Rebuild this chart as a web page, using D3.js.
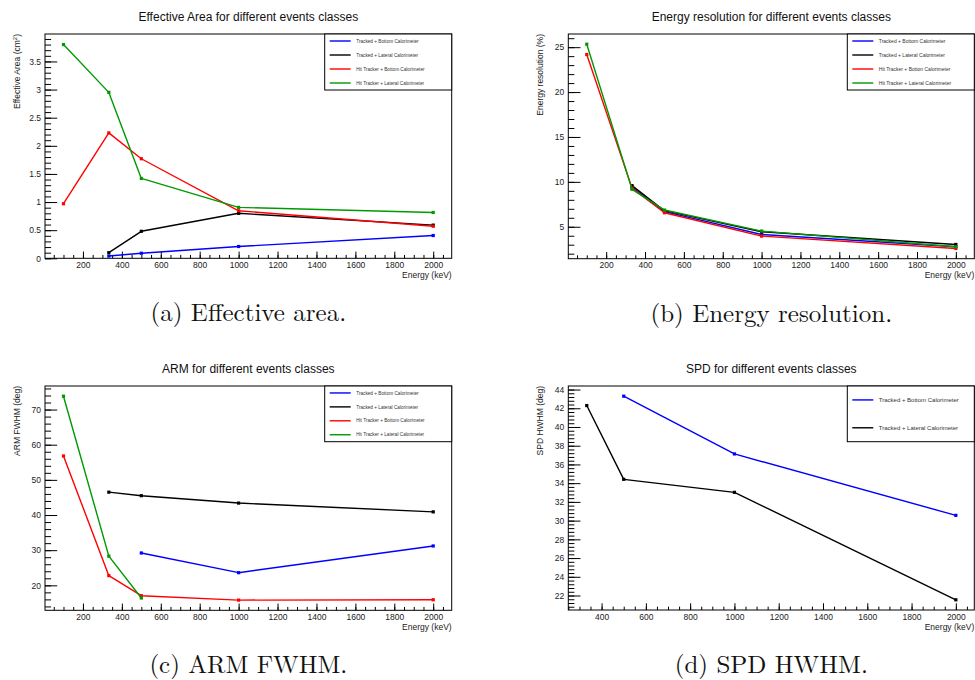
<!DOCTYPE html>
<html>
<head>
<meta charset="utf-8">
<script src="https://cdn.jsdelivr.net/npm/d3@7"></script>
<style>
  html, body { margin: 0; padding: 0; background: #fff; }
  svg { display: block; }
</style>
</head>
<body>
<svg id="fig" width="975" height="680"></svg>
<script>
// Beam energies (keV) shared by every event class
const energies = [100, 333, 500, 1000, 2000];

const classNames = [
  "Tracked + Bottom Calorimeter",
  "Tracked + Lateral Calorimeter",
  "Hit Tracker + Bottom Calorimeter",
  "Hit Tracker + Lateral Calorimeter"
];
const classNamesResolution = [
  "Tracked + Bottom Calorimeter",
  "Tracked + Lateral Calorimeter",
  "Hit Tracker + Botton Calorimeter",
  "Hit Tracker + Lateral Calorimeter"
];
const classColors = ["#0000ff", "#000000", "#ff0000", "#009900"];

// Effective area (cm^2)
const areaTrackedBottom  = [null, 0.04, 0.09, 0.21, 0.405];
const areaTrackedLateral = [null, 0.10, 0.48, 0.80, 0.59];
const areaHitBottom      = [0.97, 2.23, 1.77, 0.845, 0.57];
const areaHitLateral     = [3.80, 2.95, 1.42, 0.905, 0.815];

// Energy resolution (%)
const resTrackedBottom  = [null, 9.40, 6.68, 4.14, 2.77];
const resTrackedLateral = [null, 9.58, 6.79, 4.44, 3.03];
const resHitBottom      = [24.18, 9.30, 6.56, 3.96, 2.58];
const resHitLateral     = [25.33, 9.17, 6.86, 4.52, 2.77];

// ARM FWHM (deg)
const armTrackedBottom  = [null, null, 29.2, 23.6, 31.2];
const armTrackedLateral = [null, 46.5, 45.5, 43.4, 40.9];
const armHitBottom      = [56.8, 22.76, 17.05, 15.8, 15.9];
const armHitLateral     = [73.8, 28.3, 16.4, null, null];

// SPD HWHM (deg)
const spdTrackedBottom  = [null, null, 43.29, 37.12, 30.56];
const spdTrackedLateral = [null, 42.29, 34.41, 33.02, 21.54];

// Axis tick steps
const xTickSteps = [200, 50];
const areaTickSteps = [0.5, 0.1];
const resTickSteps = [5, 1];
const armTickSteps = [10, 2];
const spdTickSteps = [2, 0.4];

const panels = [
  {
    title: "Effective Area for different events classes",
    yTitle: ["Effective Area (cm", "2", ")"],
    caption: "(a) Effective area.",
    frame: { left: 45, right: 451.7, top: 34, bottom: 258.3 },
    series: [areaTrackedBottom, areaTrackedLateral, areaHitBottom, areaHitLateral],
    labels: classNames, colors: classColors,
    yTicks: areaTickSteps, clampZero: true,
    legend: { height: 56, size: 4.7 }
  },
  {
    title: "Energy resolution for different events classes",
    yTitle: ["Energy resolution (%)"],
    caption: "(b) Energy resolution.",
    frame: { left: 568.3, right: 974.3, top: 34, bottom: 258.7 },
    series: [resTrackedBottom, resTrackedLateral, resHitBottom, resHitLateral],
    labels: classNamesResolution, colors: classColors,
    yTicks: resTickSteps, clampZero: true,
    legend: { height: 56, size: 5 }
  },
  {
    title: "ARM for different events classes",
    yTitle: ["ARM FWHM (deg)"],
    caption: "(c) ARM FWHM.",
    frame: { left: 45, right: 451.7, top: 386, bottom: 610.3 },
    series: [armTrackedBottom, armTrackedLateral, armHitBottom, armHitLateral],
    labels: classNames, colors: classColors,
    yTicks: armTickSteps, clampZero: true,
    legend: { height: 55.7, size: 4.7 }
  },
  {
    title: "SPD for different events classes",
    yTitle: ["SPD HWHM (deg)"],
    caption: "(d) SPD HWHM.",
    frame: { left: 568.3, right: 974.3, top: 386, bottom: 610 },
    series: [spdTrackedBottom, spdTrackedLateral],
    labels: classNames.slice(0, 2), colors: classColors.slice(0, 2),
    yTicks: spdTickSteps, clampZero: true,
    legend: { height: 55.7, size: 6 }
  }
];

const sans = "'Liberation Sans', Arial, Helvetica, sans-serif";
const serif = "'Latin Modern Roman', 'CMU Serif', 'DejaVu Serif', serif";
const svg = d3.select("#fig");

// Data range padded by 5% on each side (clamped at zero for positive data)
function paddedExtent(values, clampZero) {
  const [lo, hi] = d3.extent(values);
  const pad = 0.05 * (hi - lo);
  let a = lo - pad;
  if (clampZero && lo >= 0 && a < 0) a = 0;
  return [a, hi + pad];
}

function stepTicks(domain, step) {
  const i0 = Math.ceil(domain[0] / step - 1e-9);
  const i1 = Math.floor(domain[1] / step + 1e-9);
  return d3.range(i0, i1 + 1).map(i => +(i * step).toFixed(6));
}

const fmt = d => String(+d.toFixed(6));

panels.forEach(p => {
  const f = p.frame;
  const g = svg.append("g");

  const xs = [], ys = [];
  p.series.forEach(s => s.forEach((v, i) => {
    if (v != null) { xs.push(energies[i]); ys.push(v); }
  }));

  const x = d3.scaleLinear().domain(paddedExtent(xs, false)).range([f.left, f.right]);
  const y = d3.scaleLinear().domain(paddedExtent(ys, p.clampZero)).range([f.bottom, f.top]);

  const frameW = f.right - f.left, frameH = f.bottom - f.top;
  const xTickLen = 0.03 * frameH, yTickLen = 0.03 * frameW;

  // frame
  g.append("rect")
    .attr("x", f.left).attr("y", f.top)
    .attr("width", frameW).attr("height", frameH)
    .attr("fill", "#fff").attr("stroke", "#000").attr("stroke-width", 1);

  // x axis: minor then major ticks, pointing into the frame
  const xMinor = g.append("g").attr("transform", `translate(0,${f.bottom})`)
    .call(d3.axisBottom(x).tickValues(stepTicks(x.domain(), xTickSteps[1]))
      .tickSize(-xTickLen / 2).tickFormat(""));
  const xMajor = g.append("g").attr("transform", `translate(0,${f.bottom})`)
    .call(d3.axisBottom(x).tickValues(stepTicks(x.domain(), xTickSteps[0]))
      .tickSize(-xTickLen).tickPadding(3.5).tickFormat(fmt));

  const yMinor = g.append("g").attr("transform", `translate(${f.left},0)`)
    .call(d3.axisLeft(y).tickValues(stepTicks(y.domain(), p.yTicks[1]))
      .tickSize(-yTickLen / 2).tickFormat(""));
  const yMajor = g.append("g").attr("transform", `translate(${f.left},0)`)
    .call(d3.axisLeft(y).tickValues(stepTicks(y.domain(), p.yTicks[0]))
      .tickSize(-yTickLen).tickPadding(4).tickFormat(fmt));

  [xMinor, xMajor, yMinor, yMajor].forEach(a => {
    a.select(".domain").remove();
    a.attr("font-family", sans).attr("font-size", 8.5);
    a.selectAll("line").attr("stroke", "#000").attr("stroke-width", 1);
    a.selectAll("text").attr("fill", "#222");
  });

  // series lines and markers
  const line = d3.line()
    .defined(d => d.v != null)
    .x(d => x(d.e)).y(d => y(d.v));

  p.series.forEach((s, k) => {
    const pts = s.map((v, i) => ({ e: energies[i], v }));
    g.append("path")
      .attr("d", line(pts))
      .attr("fill", "none")
      .attr("stroke", p.colors[k])
      .attr("stroke-width", 1.4)
      .attr("stroke-linejoin", "round");
    g.selectAll(null)
      .data(pts.filter(d => d.v != null))
      .enter().append("rect")
      .attr("x", d => x(d.e) - 1.6).attr("y", d => y(d.v) - 1.6)
      .attr("width", 3.2).attr("height", 3.2)
      .attr("fill", p.colors[k]);
  });

  // legend
  const lw = 127, lh = p.legend.height;
  const lx = f.right - lw, ly = f.top;
  const lg = g.append("g");
  lg.append("rect")
    .attr("x", lx).attr("y", ly).attr("width", lw).attr("height", lh)
    .attr("fill", "#fff").attr("stroke", "#000").attr("stroke-width", 1);
  const rowH = lh / p.labels.length;
  p.labels.forEach((name, k) => {
    const cy = ly + rowH * (k + 0.5);
    lg.append("line")
      .attr("x1", lx + 5).attr("x2", lx + 26)
      .attr("y1", cy).attr("y2", cy)
      .attr("stroke", p.colors[k]).attr("stroke-width", 1.4);
    lg.append("text")
      .attr("x", lx + 31.5).attr("y", cy)
      .attr("dy", "0.35em")
      .attr("font-family", sans).attr("font-size", p.legend.size)
      .attr("fill", "#333")
      .text(name);
  });

  // title
  g.append("text")
    .attr("x", (f.left + f.right) / 2).attr("y", f.top - 13.2)
    .attr("text-anchor", "middle")
    .attr("font-family", sans).attr("font-size", 12)
    .attr("fill", "#111")
    .text(p.title);

  // x axis title
  g.append("text")
    .attr("x", f.right).attr("y", f.bottom + 19.5)
    .attr("text-anchor", "end")
    .attr("font-family", sans).attr("font-size", 8.5)
    .attr("fill", "#222")
    .text("Energy (keV)");

  // y axis title
  const yt = g.append("text")
    .attr("transform", `translate(${f.left - 25.5},${f.top}) rotate(-90)`)
    .attr("text-anchor", "end")
    .attr("font-family", sans).attr("font-size", 8.5)
    .attr("fill", "#222");
  yt.append("tspan").text(p.yTitle[0]);
  if (p.yTitle.length > 1) {
    yt.append("tspan").attr("baseline-shift", "super").attr("font-size", 6).text(p.yTitle[1]);
    yt.append("tspan").text(p.yTitle[2]);
  }

  // caption
  g.append("text")
    .attr("x", (f.left + f.right) / 2).attr("y", f.bottom + 63)
    .attr("text-anchor", "middle")
    .attr("font-family", serif).attr("font-size", 25)
    .attr("fill", "#111")
    .text(p.caption);
});
</script>
</body>
</html>
